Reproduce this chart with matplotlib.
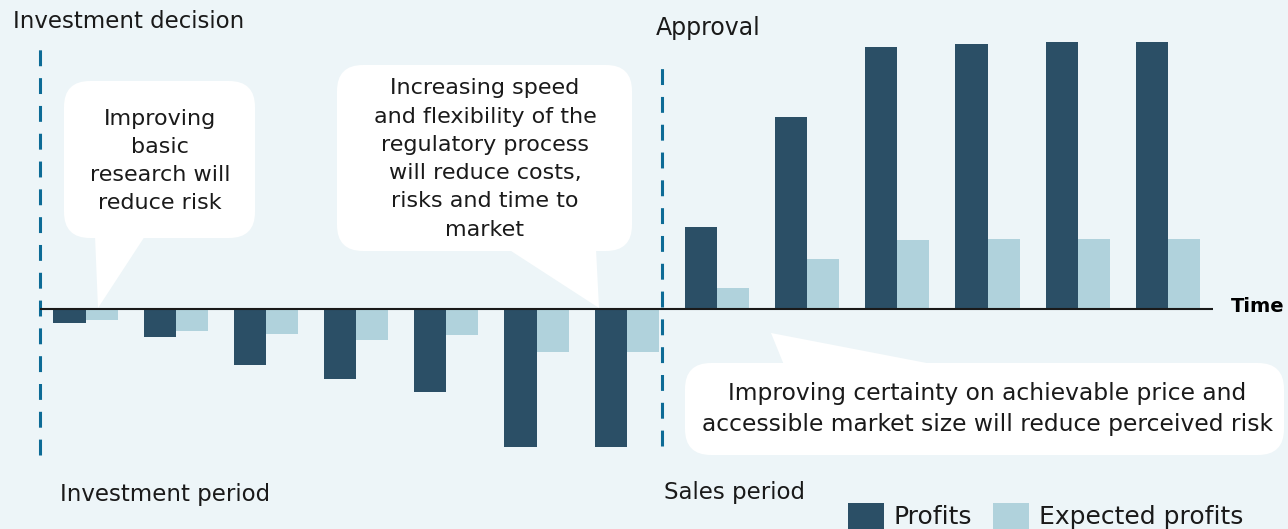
import numpy as np
import matplotlib
matplotlib.use("Agg")
import matplotlib.pyplot as plt
from matplotlib.patches import FancyBboxPatch, Polygon

plt.rcParams['font.family'] = ['DejaVu Sans']

# data: 7 investment periods followed by 6 sales periods
periods = list(range(13))
profits = [-14, -28, -56, -70, -83, -138, -138, 82, 192, 262, 265, 267, 267]
expected_profits = [-11, -22, -25, -31, -26, -43, -43, 21, 50, 69, 70, 70, 70]
series_names = ['Profits', 'Expected profits']

W, H = 1288, 529
BG = '#edf5f8'
DARK = '#2b4f66'
LIGHT = '#b0d2dc'
DASH = '#0d6b96'
TXT = '#1a1a1a'


def fxy(x, y):
    # pixel (from top-left) to figure fraction
    return x / W, 1 - y / H


fig = plt.figure(figsize=(W / 100, H / 100), dpi=100, facecolor=BG)
ax = fig.add_axes([40.4 / W, 60 / H, 1172.6 / W, 450 / H])
ax.set_facecolor('none')
ax.set_xlim(-0.5, 12.5)
ax.set_ylim(-160, 290)
ax.axis('off')

x = np.array(periods)
w = 0.355
b1 = ax.bar(x - w / 2, profits, w, color=DARK, zorder=2, label=series_names[0])
b2 = ax.bar(x + w / 2, expected_profits, w, color=LIGHT, zorder=2, label=series_names[1])
ax.axhline(0, color=TXT, lw=1.5, zorder=4)

# milestone lines
ax.plot([-0.5, -0.5], [-146, 261], color=DASH, lw=2.2, dashes=(5.2, 3.9), zorder=3, clip_on=False)
ax.plot([6.39, 6.39], [-137, 243], color=DASH, lw=2.2, dashes=(5.2, 3.9), zorder=3, clip_on=False)


# callouts (drawn in inches, 1 in = 100 px)
def callout(x0, y0, x1, y1, tri):
    box = FancyBboxPatch((x0 / 100, (H - y1) / 100), (x1 - x0) / 100, (y1 - y0) / 100,
                         boxstyle='round,pad=0,rounding_size=0.26',
                         transform=fig.dpi_scale_trans, fc='white', ec='none',
                         zorder=1, clip_on=False)
    ax.add_patch(box)
    pts = [(px / 100, (H - py) / 100) for px, py in tri]
    ax.add_patch(Polygon(pts, closed=True, transform=fig.dpi_scale_trans,
                         fc='white', ec='none', zorder=1, clip_on=False))


callout(64, 81, 255, 238, [(95, 236), (145, 236), (98, 308)])
callout(337, 65, 632, 251, [(508, 249), (596, 249), (599, 308)])
callout(685, 363, 1284, 455, [(771, 333), (784, 365), (937, 365)])

fs = 16.5
ls = 1.52
fig.text(*fxy(160, 161), 'Improving\nbasic\nresearch will\nreduce risk', ha='center', va='center',
         fontsize=16, color=TXT, linespacing=ls)
fig.text(*fxy(485, 159), 'Increasing speed\nand flexibility of the\nregulatory process\n'
         'will reduce costs,\nrisks and time to\nmarket', ha='center', va='center',
         fontsize=16, color=TXT, linespacing=ls)
fig.text(*fxy(987, 409), 'Improving certainty on achievable price and\n'
         'accessible market size will reduce perceived risk', ha='center', va='center',
         fontsize=16.8, color=TXT, linespacing=1.4)

fig.text(*fxy(13, 22), 'Investment decision', ha='left', va='center', fontsize=fs, color=TXT)
fig.text(*fxy(656, 28), 'Approval', ha='left', va='center', fontsize=17, color=TXT)
fig.text(*fxy(60, 494), 'Investment period', ha='left', va='center', fontsize=fs, color=TXT)
fig.text(*fxy(664, 492), 'Sales period', ha='left', va='center', fontsize=fs, color=TXT)
fig.text(*fxy(1231, 307), 'Time', ha='left', va='center', fontsize=14, fontweight='bold', color='black')

fig.legend(handles=[b1, b2], labels=series_names, loc='upper left',
           bbox_to_anchor=fxy(848, 503), ncol=2, frameon=False, fontsize=18,
           handlelength=1.42, handleheight=1.2, handletextpad=0.4,
           columnspacing=0.85, borderpad=0, borderaxespad=0, labelcolor=TXT)

fig.savefig('out.png', dpi=100, facecolor=BG)
